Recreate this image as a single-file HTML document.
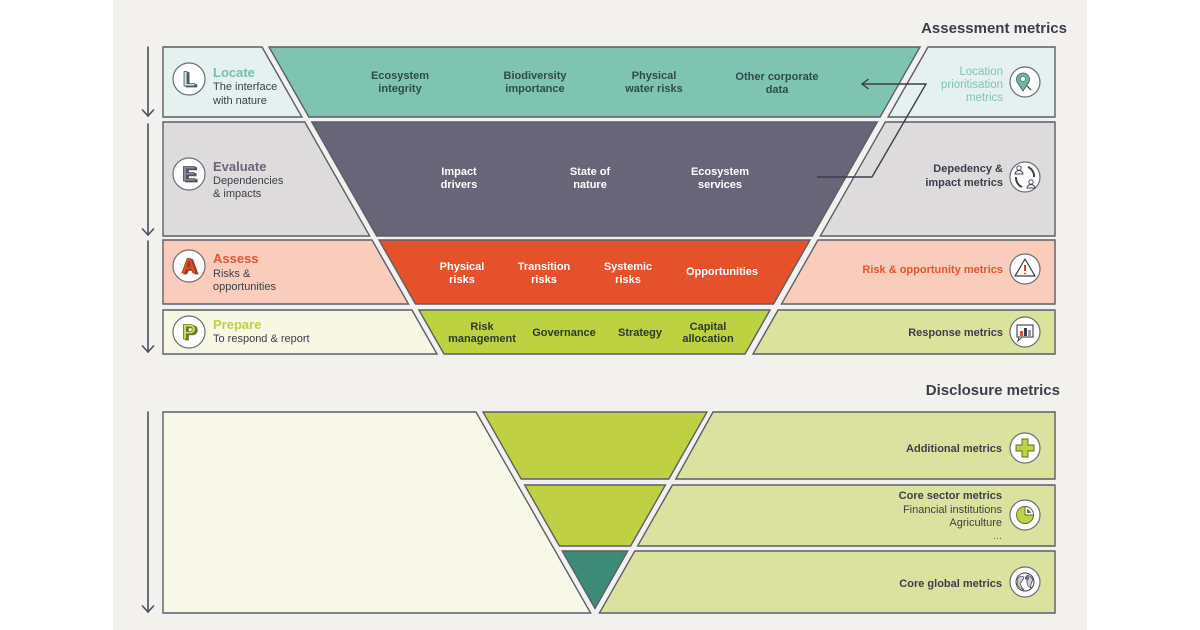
<!DOCTYPE html>
<html>
<head>
<meta charset="utf-8">
<style>
  html,body{margin:0;padding:0;background:#ffffff;}
  svg{display:block;}
  text{font-family:"Liberation Sans",Arial,sans-serif;}
  .fb{font-size:11px;font-weight:bold;}
  .t{font-size:11px;}
  .h{font-size:13px;font-weight:bold;}
</style>
</head>
<body>
<svg width="1200" height="630" viewBox="0 0 1200 630" xmlns="http://www.w3.org/2000/svg">
  <rect x="0" y="0" width="1200" height="630" fill="#ffffff"/>
  <rect x="113" y="0" width="974" height="630" fill="#f3f1ee"/>

  <!-- headers -->
  <text x="1067" y="33" text-anchor="end" font-size="15" font-weight="bold" fill="#3b3e4a">Assessment metrics</text>
  <text x="1060" y="395" text-anchor="end" font-size="15" font-weight="bold" fill="#3b3e4a">Disclosure metrics</text>

  <!-- left arrows -->
  <g stroke="#4b4f5c" stroke-width="1.6" fill="none" stroke-linecap="round">
    <line x1="148" y1="47" x2="148" y2="116"/>
    <polyline points="142.5,110 148,116 153.5,110"/>
    <line x1="148" y1="124" x2="148" y2="235"/>
    <polyline points="142.5,229 148,235 153.5,229"/>
    <line x1="148" y1="241" x2="148" y2="352"/>
    <polyline points="142.5,346 148,352 153.5,346"/>
    <line x1="148" y1="412" x2="148" y2="612"/>
    <polyline points="142.5,606 148,612 153.5,606"/>
  </g>

  <g stroke="#5b5e6a" stroke-width="1.4" stroke-linejoin="miter">
    <!-- Row 1 Locate -->
    <polygon points="163,47 262,47 301.9,117 163,117" fill="#e4f1ef"/>
    <polygon points="269,47 920,47 880.1,117 308.9,117" fill="#7ec4b1"/>
    <polygon points="928,47 1055,47 1055,117 888.1,117" fill="#e4f1ef"/>
    <!-- Row 2 Evaluate -->
    <polygon points="163,122 304.8,122 369.7,236 163,236" fill="#dedbdc"/>
    <polygon points="311.8,122 877.3,122 812.3,236 376.7,236" fill="#686578"/>
    <polygon points="885.3,122 1055,122 1055,236 820.3,236" fill="#dedbdc"/>
    <!-- Row 3 Assess -->
    <polygon points="163,240 372,240 408.5,304 163,304" fill="#f9ccbc"/>
    <polygon points="379,240 810,240 773.5,304 415.5,304" fill="#e4512a"/>
    <polygon points="818,240 1055,240 1055,304 781.5,304" fill="#f9ccbc"/>
    <!-- Row 4 Prepare -->
    <polygon points="163,310 411.9,310 437,354 163,354" fill="#f7f7e4"/>
    <polygon points="418.9,310 770.1,310 745,354 444,354" fill="#bdd141"/>
    <polygon points="778.1,310 1055,310 1055,354 753,354" fill="#dae29c"/>

    <!-- Bottom section -->
    <polygon points="163,412 476,412 590.6,613 163,613" fill="#f8f8e8"/>
    <polygon points="483,412 707,412 668.8,479 521.2,479" fill="#bfd142"/>
    <polygon points="524.6,485 665.4,485 630.6,546 559.4,546" fill="#bfd142"/>
    <polygon points="562.2,551 627.8,551 595,608.5" fill="#3d8a76"/>
    <polygon points="713,412 1055,412 1055,479 675.8,479" fill="#dbe29f"/>
    <polygon points="672.4,485 1055,485 1055,546 637.6,546" fill="#dbe29f"/>
    <polygon points="634.8,551 1055,551 1055,613 599.4,613" fill="#dbe29f"/>
  </g>

  <!-- connector -->
  <g stroke="#3b3e4a" stroke-width="1.4" fill="none">
    <polyline points="817,177 872,177 926,84 862,84"/>
    <polyline points="868.5,79 862,84 868.5,89"/>
  </g>

  <!-- Row 1 funnel text -->
  <g fill="#2e4b4c" text-anchor="middle">
    <text class="fb" x="400" y="79">Ecosystem</text>
    <text class="fb" x="400" y="92">integrity</text>
    <text class="fb" x="535" y="79">Biodiversity</text>
    <text class="fb" x="535" y="92">importance</text>
    <text class="fb" x="654" y="79">Physical</text>
    <text class="fb" x="654" y="92">water risks</text>
    <text class="fb" x="777" y="80">Other corporate</text>
    <text class="fb" x="777" y="93">data</text>
  </g>
  <!-- Row 2 -->
  <g fill="#ffffff" text-anchor="middle">
    <text class="fb" x="459" y="175">Impact</text>
    <text class="fb" x="459" y="188">drivers</text>
    <text class="fb" x="590" y="175">State of</text>
    <text class="fb" x="590" y="188">nature</text>
    <text class="fb" x="720" y="175">Ecosystem</text>
    <text class="fb" x="720" y="188">services</text>
  </g>
  <!-- Row 3 -->
  <g fill="#ffffff" text-anchor="middle">
    <text class="fb" x="462" y="270">Physical</text>
    <text class="fb" x="462" y="283">risks</text>
    <text class="fb" x="544" y="270">Transition</text>
    <text class="fb" x="544" y="283">risks</text>
    <text class="fb" x="628" y="270">Systemic</text>
    <text class="fb" x="628" y="283">risks</text>
    <text class="fb" x="722" y="275">Opportunities</text>
  </g>
  <!-- Row 4 -->
  <g fill="#2d3a2a" text-anchor="middle">
    <text class="fb" x="482" y="330">Risk</text>
    <text class="fb" x="482" y="342">management</text>
    <text class="fb" x="564" y="336">Governance</text>
    <text class="fb" x="640" y="336">Strategy</text>
    <text class="fb" x="708" y="330">Capital</text>
    <text class="fb" x="708" y="342">allocation</text>
  </g>

  <!-- Left labels -->
  <text class="h" x="213" y="77" fill="#74c0ab">Locate</text>
  <text class="t" x="213" y="90" fill="#3b3e4a">The interface</text>
  <text class="t" x="213" y="104" fill="#3b3e4a">with nature</text>

  <text class="h" x="213" y="171" fill="#6a6779">Evaluate</text>
  <text class="t" x="213" y="184" fill="#3b3e4a">Dependencies</text>
  <text class="t" x="213" y="197" fill="#3b3e4a">&amp; impacts</text>

  <text class="h" x="213" y="263" fill="#e4562e">Assess</text>
  <text class="t" x="213" y="277" fill="#3b3e4a">Risks &amp;</text>
  <text class="t" x="213" y="290" fill="#3b3e4a">opportunities</text>

  <text class="h" x="213" y="329" fill="#bdd141">Prepare</text>
  <text class="t" x="213" y="342" fill="#3b3e4a">To respond &amp; report</text>

  <!-- Right labels -->
  <g text-anchor="end">
    <text x="1003" y="75" fill="#7fc4b2" font-size="11.5">Location</text>
    <text x="1003" y="88" fill="#7fc4b2" font-size="11.5">prioritisation</text>
    <text x="1003" y="101" fill="#7fc4b2" font-size="11.5">metrics</text>
    <text class="fb" x="1003" y="172" fill="#3b3e4a">Depedency &amp;</text>
    <text class="fb" x="1003" y="186" fill="#3b3e4a">impact metrics</text>
    <text class="fb" x="1003" y="273" fill="#e4562e">Risk &amp; opportunity metrics</text>
    <text class="fb" x="1003" y="336" fill="#3b3e4a">Response metrics</text>
    <text class="fb" x="1002" y="452" fill="#3b3e4a">Additional metrics</text>
    <text class="fb" x="1002" y="499" fill="#3b3e4a">Core sector metrics</text>
    <text class="t" x="1002" y="513" fill="#3b3e4a">Financial institutions</text>
    <text class="t" x="1002" y="526" fill="#3b3e4a">Agriculture</text>
    <text class="t" x="1002" y="539" fill="#6b6e78" font-size="9">...</text>
    <text class="fb" x="1002" y="587" fill="#3b3e4a">Core global metrics</text>
  </g>

  <!-- Left icons -->
  <g stroke="#6b6e78" stroke-width="1.2" fill="#ffffff">
    <circle cx="189" cy="79" r="16"/>
    <circle cx="189" cy="174" r="16"/>
    <circle cx="189" cy="266" r="16"/>
    <circle cx="189" cy="332" r="16"/>
  </g>
  <g font-weight="bold" font-size="21" text-anchor="middle" stroke-width="0.8">
    <text x="191" y="87" fill="#4d5560" stroke="#4d5560">L</text>
    <text x="189" y="86" fill="#c5e6dc" stroke="#4d5560">L</text>
    <text x="191" y="182" fill="#4d5560" stroke="#4d5560">E</text>
    <text x="189" y="181" fill="#8a8898" stroke="#4d5560">E</text>
    <text x="191" y="274" fill="#a33a1e" stroke="#a33a1e">A</text>
    <text x="189" y="273" fill="#e4512a" stroke="#a33a1e">A</text>
    <text x="191" y="340" fill="#6b7a2a" stroke="#6b7a2a">P</text>
    <text x="189" y="339" fill="#c9dc5a" stroke="#6b7a2a">P</text>
  </g>

  <!-- Right icons -->
  <g stroke="#6b6e78" stroke-width="1.2" fill="#ffffff">
    <circle cx="1025" cy="82" r="15"/>
    <circle cx="1025" cy="177" r="15"/>
    <circle cx="1025" cy="269" r="15"/>
    <circle cx="1025" cy="332" r="15"/>
    <circle cx="1025" cy="448" r="15"/>
    <circle cx="1025" cy="515" r="15"/>
    <circle cx="1025" cy="582" r="15"/>
  </g>
  <!-- location pin -->
  <path d="M1023,91 L1017,82 A6.5,6.5 0 1 1 1029,82 Z" fill="#6bb8a3" stroke="#3e5a58" stroke-width="0.8"/>
  <circle cx="1023" cy="79" r="2.6" fill="#ffffff" stroke="#3e5a58" stroke-width="0.6"/>
  <line x1="1027" y1="86" x2="1031" y2="90" stroke="#3b3e4a" stroke-width="1.2"/>
  <!-- dependency circular arrows -->
  <g fill="none" stroke="#3b3e4a" stroke-width="2">
    <path d="M1028,167 A10,10 0 0 1 1034,177"/>
    <path d="M1022,187 A10,10 0 0 1 1016,177"/>
  </g>
  <circle cx="1019" cy="168" r="2.2" fill="#ffffff" stroke="#3b3e4a" stroke-width="0.9"/>
  <path d="M1015,174 A4,3.5 0 0 1 1023,174 Z" fill="#ffffff" stroke="#3b3e4a" stroke-width="0.9"/>
  <circle cx="1031" cy="182" r="2.2" fill="#ffffff" stroke="#3b3e4a" stroke-width="0.9"/>
  <path d="M1027,188 A4,3.5 0 0 1 1035,188 Z" fill="#ffffff" stroke="#3b3e4a" stroke-width="0.9"/>
  <!-- warning -->
  <polygon points="1025,259 1035,276 1015,276" fill="none" stroke="#3b3e4a" stroke-width="1.2" stroke-linejoin="round"/>
  <line x1="1025" y1="265" x2="1025" y2="271" stroke="#a33a1e" stroke-width="1.8"/>
  <circle cx="1025" cy="273.5" r="0.9" fill="#a33a1e"/>
  <!-- response bubble -->
  <rect x="1017" y="325" width="16" height="12" fill="#ffffff" stroke="#3b3e4a" stroke-width="1.1"/>
  <polyline points="1019,337 1018,341 1022,337" fill="#ffffff" stroke="#3b3e4a" stroke-width="1"/>
  <rect x="1020" y="331" width="3" height="5" fill="#e4512a"/>
  <rect x="1024" y="328" width="3" height="8" fill="#3b3e4a"/>
  <rect x="1028" y="330" width="3" height="6" fill="#9a98a6"/>
  <!-- plus -->
  <polygon points="1022,439 1028,439 1028,445 1034,445 1034,451 1028,451 1028,457 1022,457 1022,451 1016,451 1016,445 1022,445" fill="#bdd141" stroke="#5b6a2a" stroke-width="0.9"/>
  <!-- pie -->
  <circle cx="1025" cy="515" r="8.5" fill="#bdd141" stroke="#5b6a2a" stroke-width="0.9"/>
  <path d="M1025,515 L1025,506.5 A8.5,8.5 0 0 1 1033.5,515 Z" fill="#ffffff" stroke="#5b6a2a" stroke-width="0.9"/>
  <path d="M1027,513 L1027,509 A6,6 0 0 1 1031,513 Z" fill="#686578"/>
  <!-- globe -->
  <circle cx="1025" cy="582" r="9" fill="#ffffff" stroke="#3b3e4a" stroke-width="1"/>
  <path d="M1018,578 Q1021,575 1024,577 Q1023,581 1020,583 Q1021,587 1024,590 Q1019,588 1017,584 Z" fill="#cfd0d4" stroke="#3b3e4a" stroke-width="0.7"/>
  <path d="M1027,575 Q1031,576 1033,580 Q1030,584 1031,588 Q1027,586 1027,582 Z" fill="#cfd0d4" stroke="#3b3e4a" stroke-width="0.7"/>
  <circle cx="1027" cy="578" r="2" fill="#686578"/>
</svg>
</body>
</html>
